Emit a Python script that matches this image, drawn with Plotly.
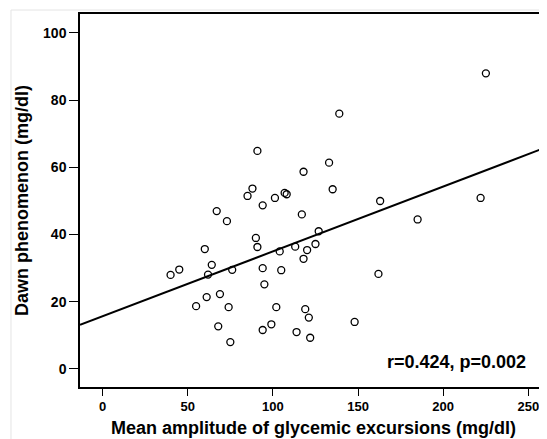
import plotly.graph_objects as go

mage = [225.1, 139.0, 90.9, 133.0, 118.0, 88.0, 135.1, 85.1, 106.9, 108.1,
        101.2, 222.0, 163.0, 94.0, 67.0, 73.0, 117.0, 185.0, 126.9, 90.0,
        90.9, 60.0, 113.1, 125.0, 120.1, 104.0, 118.0, 64.1, 39.9, 45.0,
        61.9, 76.1, 94.0, 104.9, 162.0, 95.0, 61.1, 68.9, 54.9, 74.0,
        102.0, 119.0, 121.1, 67.9, 99.1, 94.0, 113.9, 121.9, 75.0, 148.0]
dawn = [88.0, 76.0, 64.9, 61.4, 58.7, 53.7, 53.5, 51.5, 52.4, 52.0,
        50.9, 50.9, 50.0, 48.7, 47.0, 44.0, 46.0, 44.5, 41.0, 39.0,
        36.3, 35.7, 36.4, 37.2, 35.4, 35.0, 32.8, 31.0, 28.0, 29.6,
        28.1, 29.5, 30.0, 29.4, 28.3, 25.2, 21.4, 22.3, 18.7, 18.4,
        18.4, 17.8, 15.3, 12.7, 13.3, 11.6, 11.0, 9.3, 8.0, 14.0]

fit_intercept = 15.7
fit_slope = 0.193
x_range = [-13.3, 261.0]
y_range = [-5.36, 105.65]
x_ticks = [0, 50, 100, 150, 200, 250]
y_ticks = [0, 20, 40, 60, 80, 100]
stats_text = "r=0.424, p=0.002"

fit_x = x_range
fit_y = [fit_intercept + fit_slope * v for v in fit_x]

FONT = "Liberation Sans, Arial, sans-serif"

fig = go.Figure()
fig.add_trace(go.Scatter(x=fit_x, y=fit_y, mode="lines",
                         line=dict(color="black", width=2), hoverinfo="skip"))
fig.add_trace(go.Scatter(x=mage, y=dawn, mode="markers",
                         marker=dict(symbol="circle-open", size=7, color="black",
                                     line=dict(width=1.3, color="black"))))

fig.add_annotation(x=249.8, y=2.1, xref="x", yref="y", text=stats_text,
                   showarrow=False, xanchor="right", yanchor="middle",
                   font=dict(family=FONT, size=18, color="black", weight="bold"))

# faint outer frame of the original image (page body adds an 8px offset)
fig.add_shape(type="line", xref="paper", yref="paper", x0=-0.1478, x1=1.0,
              y0=1.0107, y1=1.0107, line=dict(color="#e4e4e4", width=1))
fig.add_shape(type="line", xref="paper", yref="paper", x0=-0.1478, x1=-0.1478,
              y0=1.0107, y1=-0.14, line=dict(color="#e4e4e4", width=1))

fig.update_layout(
    width=539, height=431,
    margin=dict(l=72, r=0, t=6, b=52, autoexpand=False),
    paper_bgcolor="white", plot_bgcolor="white",
    showlegend=False,
    font=dict(family=FONT, color="black", weight="bold"),
)
fig.update_xaxes(
    range=x_range, tickvals=x_ticks, showgrid=False, zeroline=False,
    showline=True, linecolor="black", linewidth=1.5, mirror=True,
    ticks="outside", ticklen=7, tickwidth=1.2, tickcolor="black",
    tickfont=dict(family=FONT, size=13, color="black", weight="bold"),
    title=dict(text="Mean amplitude of glycemic excursions (mg/dl)", standoff=8,
               font=dict(family=FONT, size=18, color="black", weight="bold")),
)
fig.update_yaxes(
    range=y_range, tickvals=y_ticks, showgrid=False, zeroline=False,
    showline=True, linecolor="black", linewidth=1.5, mirror=False,
    ticks="outside", ticklen=9, tickwidth=1.2, tickcolor="black",
    tickfont=dict(family=FONT, size=14, color="black", weight="bold"),
    title=dict(text="Dawn phenomenon (mg/dl)", standoff=10,
               font=dict(family=FONT, size=18, color="black", weight="bold")),
)

fig.write_html("out.html")
